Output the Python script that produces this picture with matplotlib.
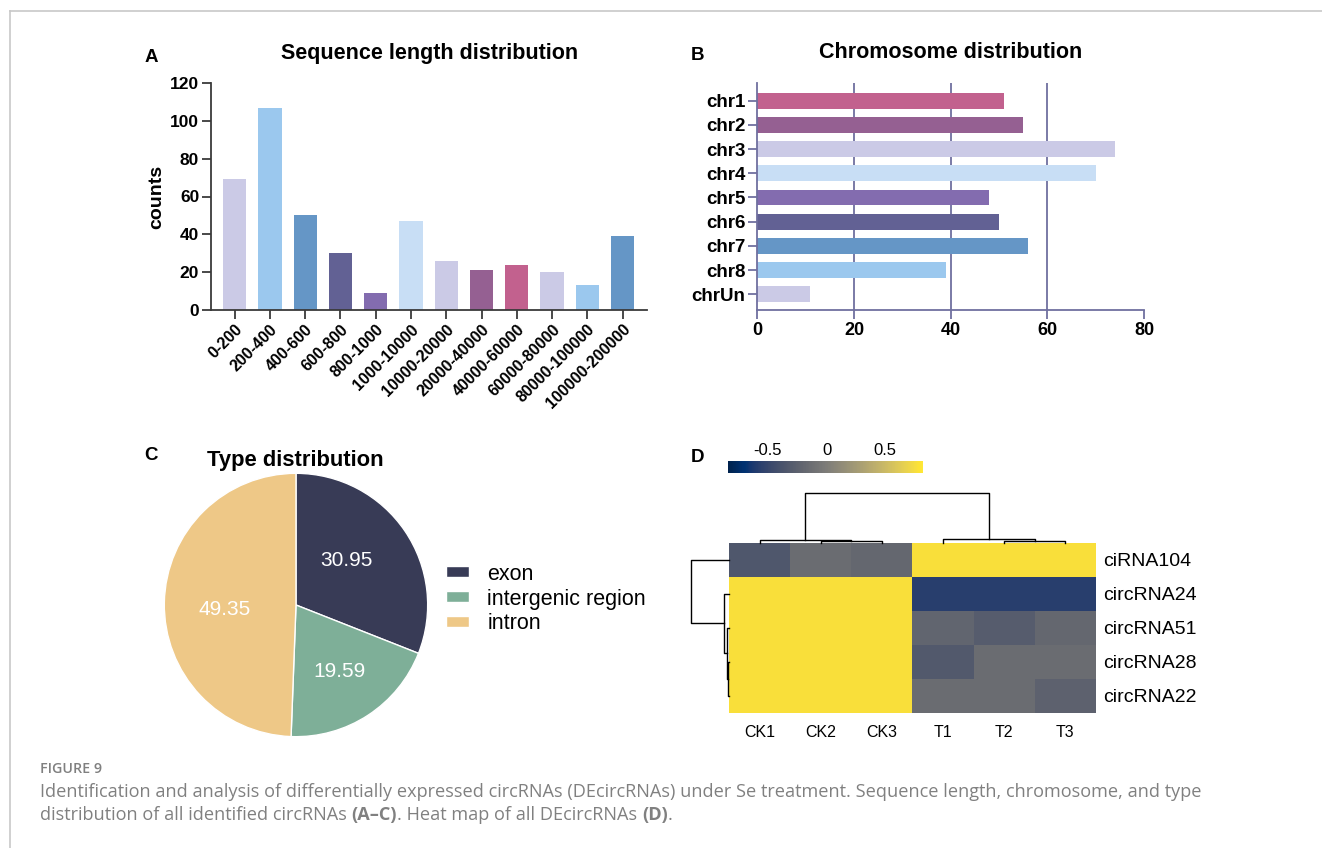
import numpy as np
import matplotlib
matplotlib.use("Agg")
import matplotlib.pyplot as plt
from matplotlib.lines import Line2D

plt.rcParams["font.family"] = ["Liberation Sans", "DejaVu Sans"]

# ---- panel A: sequence length distribution ----
LEN_BINS = ["0-200", "200-400", "400-600", "600-800", "800-1000", "1000-10000",
            "10000-20000", "20000-40000", "40000-60000", "60000-80000",
            "80000-100000", "100000-200000"]
LEN_COUNTS = [69, 107, 50, 30, 9, 47, 26, 21, 24, 20, 13, 39]
LEN_COLORS = ["#CBCAE6", "#9BC8EE", "#6596C6", "#626194", "#836CAF", "#C8DEF5",
              "#CBCAE6", "#956092", "#C2618E", "#CBCAE6", "#9BC8EE", "#6596C6"]

# ---- panel B: chromosome distribution ----
CHROMS = ["chr1", "chr2", "chr3", "chr4", "chr5", "chr6", "chr7", "chr8", "chrUn"]
CHR_COUNTS = [51, 55, 74, 70, 48, 50, 56, 39, 11]
CHR_COLORS = ["#C2618E", "#956092", "#CBCAE6", "#C8DEF5", "#836CAF", "#626194",
              "#6596C6", "#9BC8EE", "#CBCAE6"]

# ---- panel C: type distribution ----
TYPES = ["exon", "intergenic region", "intron"]
TYPE_PCT = [30.95, 19.59, 49.35]
TYPE_COLORS = ["#383B56", "#7EAF98", "#EEC887"]

# ---- panel D: heat map ----
SAMPLES = ["CK1", "CK2", "CK3", "T1", "T2", "T3"]
GENES = ["ciRNA104", "circRNA24", "circRNA51", "circRNA28", "circRNA22"]
HEAT = np.array([
    [-0.34, -0.14, -0.19, 0.77, 0.77, 0.77],
    [0.77, 0.77, 0.77, -0.57, -0.57, -0.57],
    [0.77, 0.77, 0.77, -0.21, -0.29, -0.19],
    [0.77, 0.77, 0.77, -0.32, -0.14, -0.14],
    [0.77, 0.77, 0.77, -0.14, -0.14, -0.24],
])
# linkage rows: [left id, right id, height]
COL_LINK = [[1, 2, 1.3], [0, 6, 2.7], [4, 5, 1.3], [3, 8, 3.3], [7, 9, 50.0]]
ROW_LINK = [[3, 4, 0.7], [2, 5, 1.7], [1, 6, 5.0], [0, 7, 38.3]]

W, H = 1322, 848
fig = plt.figure(figsize=(W / 100, H / 100), dpi=100)


def box(l, t, r, b):
    return [l / W, 1 - b / H, (r - l) / W, (b - t) / H]


def ftext(x, y, s, **kw):
    return fig.text(x / W, 1 - y / H, s, **kw)


# frame lines of the figure page
fig.add_artist(Line2D([10 / W, 1], [1 - 11 / H, 1 - 11 / H], color="#C8C8C8", lw=1.2))
fig.add_artist(Line2D([10 / W, 10 / W], [0, 1 - 11 / H], color="#C8C8C8", lw=1.2))

# ---------- A ----------
axA = fig.add_axes(box(211, 83, 647, 310))
xa = np.arange(len(LEN_BINS))
axA.bar(xa, LEN_COUNTS, width=0.66, color=LEN_COLORS)
axA.set_xlim(-0.67, 11.69)
axA.set_ylim(0, 120)
axA.set_yticks(range(0, 121, 20))
axA.set_xticks(xa)
axA.set_xticklabels(LEN_BINS, rotation=45, ha="right", va="top",
                    rotation_mode="anchor", fontweight="bold", fontsize=11.5)
for lab in axA.get_yticklabels():
    lab.set_fontweight("bold")
    lab.set_fontsize(12.5)
for s in ("top", "right"):
    axA.spines[s].set_visible(False)
for s in ("left", "bottom"):
    axA.spines[s].set_linewidth(1.3)
    axA.spines[s].set_color("#3a3a3a")
axA.tick_params(direction="out", length=6.5, width=1.3, color="#3a3a3a", pad=2)
ftext(429.5, 53, "Sequence length distribution", ha="center", va="center",
      fontsize=15.5, fontweight="bold")
ftext(157, 197, "counts", rotation=90, ha="center", va="center",
      fontsize=14, fontweight="bold")
ftext(151, 57, "A", ha="center", va="center", fontsize=13.5, fontweight="bold")

# ---------- B ----------
axB = fig.add_axes(box(757.3, 82.7, 1144, 310))
yb = np.arange(len(CHROMS))
axB.barh(yb, CHR_COUNTS, height=0.65, color=CHR_COLORS, zorder=2)
axB.set_xlim(0, 80)
axB.set_ylim(8.65, -0.744)
axB.set_xticks(range(0, 81, 20))
axB.set_yticks(yb)
axB.set_yticklabels(CHROMS)
bcol = "#6F6F9F"
for v in axB.get_xticks()[1:-1]:
    axB.axvline(v, color=bcol, lw=1.3, zorder=0)
for s in ("top", "right"):
    axB.spines[s].set_visible(False)
for s in ("left", "bottom"):
    axB.spines[s].set_linewidth(1.3)
    axB.spines[s].set_color(bcol)
axB.tick_params(direction="out", length=6.5, width=1.3, color=bcol, pad=2)
for lab in axB.get_xticklabels():
    lab.set_fontweight("bold")
    lab.set_fontsize(13)
for lab in axB.get_yticklabels():
    lab.set_fontweight("bold")
    lab.set_fontsize(13.5)
ftext(950.5, 53, "Chromosome distribution", ha="center", va="center",
      fontsize=15.5, fontweight="bold")
ftext(697, 56, "B", ha="center", va="center", fontsize=13.5, fontweight="bold")

# ---------- C ----------
axC = fig.add_axes(box(296 - 133, 605 - 133, 296 + 133, 605 + 133))
wedges, _ = axC.pie(TYPE_PCT, colors=TYPE_COLORS, startangle=90, counterclock=False,
                    wedgeprops=dict(edgecolor="white", linewidth=1.0))
axC.set_xlim(-1.01, 1.01)
axC.set_ylim(-1.01, 1.01)
# label radius / angle nudge per wedge, to sit where the original labels are
for w, val, d, nudge in zip(wedges, TYPE_PCT, (0.51, 0.60, 0.54), (7, 0, 5)):
    ang = np.deg2rad((w.theta1 + w.theta2) / 2 + nudge)
    axC.text(d * np.cos(ang), d * np.sin(ang), f"{val:.2f}", ha="center",
             va="center", color="white", fontsize=15)
fig.legend(wedges, TYPES, loc="center left", bbox_to_anchor=(446 / W, 1 - 599 / H),
           frameon=False, fontsize=15.5, handlelength=1.07, handleheight=0.4,
           handletextpad=0.85, labelspacing=0.18, borderpad=0, borderaxespad=0)
ftext(295.8, 460, "Type distribution", ha="center", va="center",
      fontsize=15.8, fontweight="bold")
ftext(151, 455, "C", ha="center", va="center", fontsize=13.5, fontweight="bold")

# ---------- D ----------
axH = fig.add_axes(box(729, 542.7, 1096, 712.7))
im = axH.imshow(HEAT, cmap="cividis", vmin=-0.84, vmax=0.82, aspect="auto",
                extent=(0, len(SAMPLES), len(GENES), 0), interpolation="nearest")
axH.set_xticks(np.arange(len(SAMPLES)) + 0.5)
axH.set_xticklabels(SAMPLES, fontsize=11.5)
axH.set_yticks(np.arange(len(GENES)) + 0.5)
axH.set_yticklabels(GENES, fontsize=14)
axH.yaxis.tick_right()
axH.tick_params(length=0, pad=5)
axH.tick_params(axis="x", pad=9)
for s in axH.spines.values():
    s.set_visible(False)

cax = fig.add_axes(box(728, 460.7, 922.7, 473.3))
cb = fig.colorbar(im, cax=cax, orientation="horizontal")
cb.outline.set_visible(False)
cax.xaxis.set_ticks_position("top")
cb.set_ticks([-0.5, 0, 0.5])
cb.set_ticklabels(["-0.5", "0", "0.5"])
cax.tick_params(length=0, labelsize=12, pad=2)
ftext(697, 458, "D", ha="center", va="center", fontsize=13.5, fontweight="bold")


def dendro(ax, links, n, horizontal):
    pos = {i: i + 0.5 for i in range(n)}
    hgt = {i: 0.0 for i in range(n)}
    for k, (a, b, h) in enumerate(links):
        xs = [pos[a], pos[a], pos[b], pos[b]]
        ys = [hgt[a], h, h, hgt[b]]
        if horizontal:
            ax.plot(ys, xs, color="black", lw=1.0, clip_on=False)
        else:
            ax.plot(xs, ys, color="black", lw=1.0, clip_on=False)
        pos[n + k] = (pos[a] + pos[b]) / 2
        hgt[n + k] = h
    ax.axis("off")


axTop = fig.add_axes(box(729, 492.7, 1096, 542.7))
dendro(axTop, COL_LINK, len(SAMPLES), horizontal=False)
axTop.set_xlim(0, len(SAMPLES))
axTop.set_ylim(0, COL_LINK[-1][2])

axLeft = fig.add_axes(box(690.7, 542.7, 729, 712.7))
dendro(axLeft, ROW_LINK, len(GENES), horizontal=True)
axLeft.set_ylim(len(GENES), 0)
axLeft.set_xlim(ROW_LINK[-1][2], 0)

# ---------- caption ----------
cap_kw = dict(family=["Open Sans", "DejaVu Sans"], color="#808080", va="center")
ftext(40, 769, "FIGURE 9", fontsize=10.3, fontweight="semibold", **cap_kw)
ftext(40, 792, "Identification and analysis of differentially expressed circRNAs "
      "(DEcircRNAs) under Se treatment. Sequence length, chromosome, and type",
      fontsize=13.1, **cap_kw)
renderer = fig.canvas.get_renderer()
x = 40
for part, wt in [("distribution of all identified circRNAs ", "normal"),
                 ("(A\u2013C)", "bold"), (". Heat map of all DEcircRNAs ", "normal"),
                 ("(D)", "bold"), (".", "normal")]:
    t = ftext(x, 815, part, fontsize=13.1, fontweight=wt, **cap_kw)
    x += t.get_window_extent(renderer).width

fig.savefig("out.png", dpi=100)
